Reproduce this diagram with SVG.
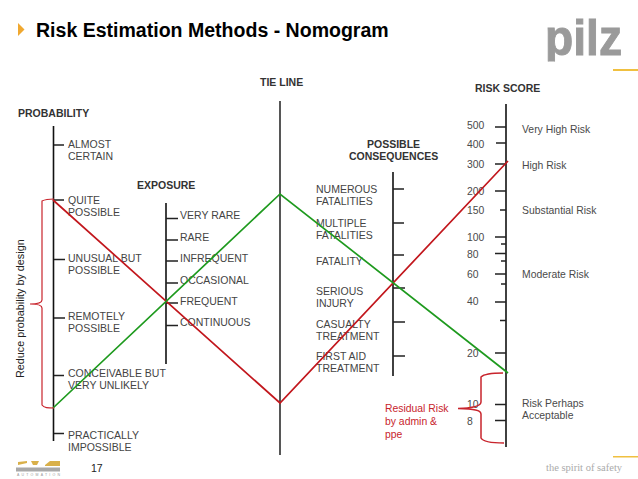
<svg xmlns="http://www.w3.org/2000/svg" width="638" height="479" viewBox="0 0 638 479">
<style>
text{font-family:"Liberation Sans",Arial,sans-serif}
.t{font-size:10.5px;fill:#444}
.h{font-size:10.5px;font-weight:bold;fill:#333}
.r{font-size:10.4px;fill:#4a4a4a}
.ax{stroke:#111;stroke-width:1.6;fill:none}
.tk{stroke:#222;stroke-width:1.5;fill:none}
.red{stroke:#c2171d;stroke-width:1.7;fill:none}
.green{stroke:#1e9a1e;stroke-width:1.7;fill:none}
.br{stroke:#c8242c;stroke-width:1.2;fill:none}
.n{font-size:10.4px;fill:#c8242c}
</style>
<defs><clipPath id="lc"><rect x="540" y="15" width="90" height="46.500"/></clipPath></defs>
<rect width="638" height="479" fill="#fff"/>
<g id="title">
<path d="M18 23l6.500 6.500l-6.500 6.500z" fill="#f0a830"/>
<text x="36" y="37" font-size="19.550" font-weight="bold" fill="#000">Risk Estimation Methods - Nomogram</text>
</g>
<g id="logo">
<text x="545" y="55" font-size="50" font-weight="bold" fill="#9a9a9a" stroke="#9a9a9a" stroke-width="1" textLength="77" lengthAdjust="spacingAndGlyphs" clip-path="url(#lc)">pilz</text>
<rect x="613" y="69" width="25" height="2" fill="#f0c040"/>
<rect x="613" y="456" width="25" height="1.500" fill="#f0c040"/>
<text x="546" y="471" font-size="10.500" fill="#aaa" style="font-family:'Liberation Serif',serif">the spirit of safety</text>
</g>
<g id="footer">
<path d="M18 462l9-1v2l-9 2zM31 461h8l-2 4h-4zM45 465l5-4h10v5h-15z" fill="#d9b04a"/>
<rect x="16" y="467.500" width="44" height="4" fill="#a8a8a8"/>
<text x="17" y="476" font-size="3.500" fill="#999" textLength="43">AUTOMATION</text>
<text x="91" y="472" font-size="10.500" fill="#222">17</text>
</g>
<g id="probability">
<text class="h" x="18" y="117">PROBABILITY</text>
<path class="ax" d="M53.500 126V441"/>
<path class="tk" d="M54 145H64M54 200H64M54 259.500H65M54 318H65M54 375.500H64M54 433.500H64"/>
<text class="t" x="68" y="148">ALMOST</text><text class="t" x="68" y="160">CERTAIN</text>
<text class="t" x="68" y="204">QUITE</text><text class="t" x="68" y="216">POSSIBLE</text>
<text class="t" x="68" y="262">UNUSUAL BUT</text><text class="t" x="68" y="274">POSSIBLE</text>
<text class="t" x="68" y="320">REMOTELY</text><text class="t" x="68" y="332">POSSIBLE</text>
<text class="t" x="68" y="377">CONCEIVABLE BUT</text><text class="t" x="68" y="389">VERY UNLIKELY</text>
<text class="t" x="68" y="439">PRACTICALLY</text><text class="t" x="68" y="451">IMPOSSIBLE</text>
</g>
<g id="exposure">
<text class="h" x="137" y="189">EXPOSURE</text>
<path class="ax" d="M166 203V364"/>
<path class="tk" d="M166 218.500H178M166 240H178M166 261H178M166 283H178M166 303H178M166 325.500H178"/>
<text class="t" x="180" y="219">VERY RARE</text>
<text class="t" x="180" y="241">RARE</text>
<text class="t" x="180" y="262">INFREQUENT</text>
<text class="t" x="180" y="284">OCCASIONAL</text>
<text class="t" x="180" y="305">FREQUENT</text>
<text class="t" x="180" y="326">CONTINUOUS</text>
</g>
<g id="tie-line">
<text class="h" x="260" y="86">TIE LINE</text>
<path class="ax" d="M280 101V455" style="stroke:#444;stroke-width:1.800"/>
</g>
<g id="consequences">
<text class="h" x="367" y="148">POSSIBLE</text>
<text class="h" x="349" y="160">CONSEQUENCES</text>
<path class="ax" d="M393 172V376"/>
<path class="tk" d="M393 189H404M393 223H404M393 255H404M393 288H405M393 322H405M393 356H405"/>
<text class="t" x="316" y="193">NUMEROUS</text><text class="t" x="316" y="205">FATALITIES</text>
<text class="t" x="316" y="227">MULTIPLE</text><text class="t" x="316" y="239">FATALITIES</text>
<text class="t" x="316" y="265">FATALITY</text>
<text class="t" x="316" y="295">SERIOUS</text><text class="t" x="316" y="307">INJURY</text>
<text class="t" x="316" y="328">CASUALTY</text><text class="t" x="316" y="340">TREATMENT</text>
<text class="t" x="316" y="360">FIRST AID</text><text class="t" x="316" y="372">TREATMENT</text>
</g>
<g id="risk-score">
<text class="h" x="475" y="92">RISK SCORE</text>
<path class="ax" d="M506 104V447"/>
<path class="tk" d="M495 127H506M496 143H506M495 164H506M495 191H506M500 210H506M495 237H506M501 244H506M495 253.500H506M501 261H506M495 274H506M501 284H506M495 302H506M500 320.500H506M495 353H506M495 404.500H506M495 420.500H506"/>
<text class="r" x="467" y="129">500</text>
<text class="r" x="467" y="148">400</text>
<text class="r" x="467" y="168">300</text>
<text class="r" x="467" y="195">200</text>
<text class="r" x="467" y="214">150</text>
<text class="r" x="467" y="241">100</text>
<text class="r" x="467" y="258">80</text>
<text class="r" x="467" y="278">60</text>
<text class="r" x="467" y="305">40</text>
<text class="r" x="467" y="357">20</text>
<text class="r" x="467" y="408">10</text>
<text class="r" x="467" y="425">8</text>
<text class="r" x="522" y="133">Very High Risk</text>
<text class="r" x="522" y="169">High Risk</text>
<text class="r" x="522" y="214">Substantial Risk</text>
<text class="r" x="522" y="278">Moderate Risk</text>
<text class="r" x="522" y="407">Risk Perhaps</text>
<text class="r" x="522" y="419">Acceptable</text>
</g>
<g id="connectors">
<path class="red" d="M53 200L280 403L508 161"/>
<path class="green" d="M53 408L280 194L508 373"/>
<path class="br" d="M54 199C48 199 44 200 42 201V300C42 303 38 304 30 304C38 304 42 305 42 308V405C44 408 48 408 54 408"/>
<path class="br" style="stroke-width:1.500" d="M503 373C490 373 484 374 481 377V402C481 406 474 408 458 408.500C474 409 481 410 481 414V438C483 442 492 443 504 443"/>
</g>
<g id="annotations">
<text font-size="10.800" fill="#222" transform="translate(24,378) rotate(-90)">Reduce probability by design</text>
<text class="n" x="385" y="412">Residual Risk</text>
<text class="n" x="385" y="425">by admin &amp;</text>
<text class="n" x="385" y="438">ppe</text>
</g>
</svg>
